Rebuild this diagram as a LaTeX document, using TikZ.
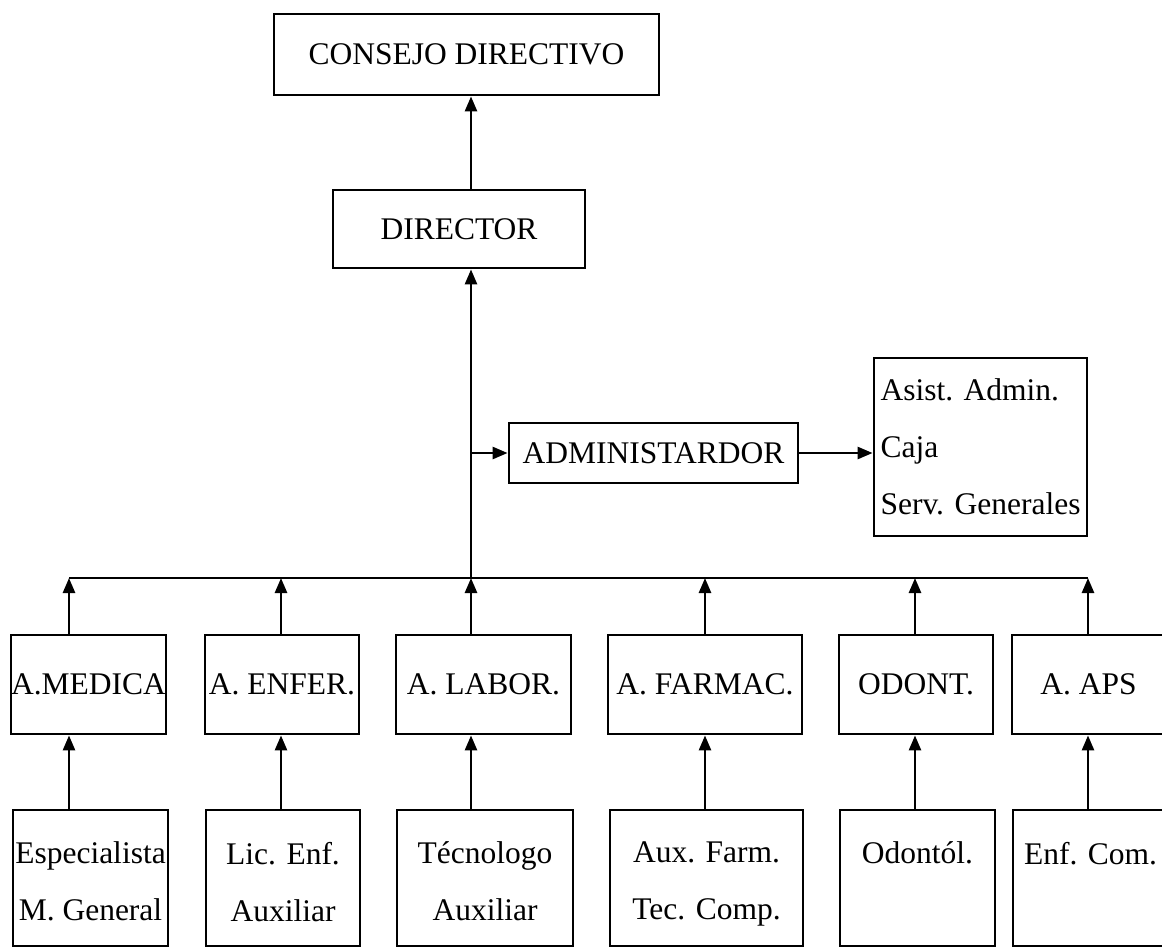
\documentclass[tikz,border=0pt]{standalone}
\usepackage{fontspec}
\setmainfont{Liberation Serif}
\usetikzlibrary{arrows.meta}

\begin{document}
\begin{tikzpicture}[x=0.5pt, y=-0.5pt,
        every node/.style={font=\fontsize{15.75pt}{28.5pt}\selectfont},
        box/.style={draw, line width=1.4pt, inner sep=0pt},
        unitbox/.style={box, minimum height=49.5pt},
        lowbox/.style={box, minimum height=68pt},
        arr/.style={line width=1.3pt, -{Triangle[length=7.5pt, width=6pt]}}]
        \useasboundingbox (0,0) rectangle (1162,948);

        % upper levels
        \node[box, minimum width=192.5pt, minimum height=40.5pt] (cons) at (466.5,54.5) {CONSEJO DIRECTIVO};
        \node[box, minimum width=126pt, minimum height=39pt] (dir) at (459,229) {DIRECTOR};
        \node[box, minimum width=144.5pt, minimum height=30pt] (adm) at (653.5,453) {ADMINISTARDOR};
        \node[box, minimum width=106.5pt, minimum height=89pt, align=left] (staff) at (980.5,447) {Asist. Admin.\\Caja\\Serv. Generales};

        % bus
        \foreach \c/\x in {1/69, 2/281, 3/471, 4/705, 5/915, 6/1088}
            \coordinate (b\c) at (\x,578);

        % areas
        \node[unitbox, minimum width=77.5pt] (med) at (88.5,684.5) {A.MEDICA};
        \node[unitbox, minimum width=77pt] (enf) at (282,684.5) {A. ENFER.};
        \node[unitbox, minimum width=87.5pt] (lab) at (483.5,684.5) {A. LABOR.};
        \node[unitbox, minimum width=97pt] (far) at (705,684.5) {A. FARMAC.};
        \node[unitbox, minimum width=77pt] (odo) at (916,684.5) {ODONT.};
        \node[unitbox, minimum width=76.5pt] (aps) at (1088.5,684.5) {A. APS};

        % staff of each area
        \node[lowbox, minimum width=77.5pt] (esp) at (90.5,878) {};
        \node[lowbox, minimum width=77pt] (lic) at (283,878) {};
        \node[lowbox, minimum width=88pt] (tec) at (485,878) {};
        \node[lowbox, minimum width=96.5pt] (aux) at (706.5,878) {};
        \node[lowbox, minimum width=77.5pt] (odl) at (917.5,878) {};
        \node[lowbox, minimum width=77.5pt] (com) at (1090.5,878) {};
        \node[anchor=north, inner sep=0pt, align=center] (espt) at ([yshift=-16.5pt]esp.north) {Especialista\\M. General};
        \node[anchor=north, inner sep=0pt, align=center] (lict) at ([yshift=-16.5pt]lic.north) {Lic. Enf.\\Auxiliar};
        \node[anchor=north, inner sep=0pt, align=center] (tect) at ([yshift=-16.5pt]tec.north) {Técnologo\\Auxiliar};
        \node[anchor=north, inner sep=0pt, align=center] (auxt) at ([yshift=-16.5pt]aux.north) {Aux. Farm.\\Tec. Comp.};
        \node[anchor=north, inner sep=0pt, align=center] (odlt) at ([yshift=-16.5pt]odl.north) {Odontól.};
        \node[anchor=north, inner sep=0pt, align=center] (comt) at ([yshift=-16.5pt]com.north) {Enf. Com.};

        % connectors
        \draw[arr] (dir.north -| b3) -- (cons.south -| b3);
        \draw[arr] (b3) -- (dir.south -| b3);
        \draw[arr] (adm.west -| b3) -- (adm.west);
        \draw[arr] (adm.east) -- (adm.east -| staff.west);
        \draw[line width=1.3pt] (b1) -- (b6);
        \foreach \up/\lo/\c in {med/esp/1, enf/lic/2, lab/tec/3, far/aux/4, odo/odl/5, aps/com/6}
        {
            \draw[arr] (\up.north -| b\c) -- (b\c);
            \draw[arr] (\lo.north -| b\c) -- (\up.south -| b\c);
        }
    \end{tikzpicture}
\end{document}
